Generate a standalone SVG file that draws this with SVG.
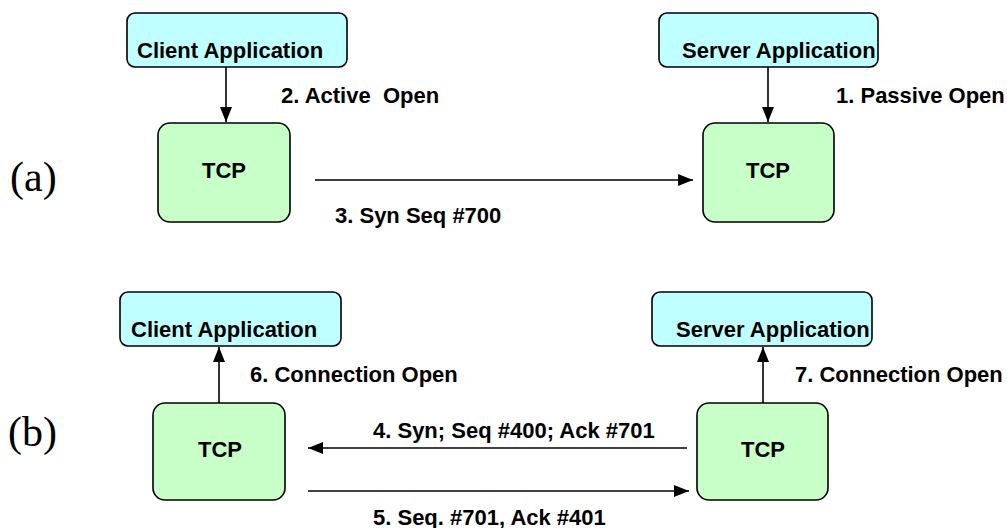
<svg xmlns="http://www.w3.org/2000/svg" width="1007" height="528" viewBox="0 0 1007 528">
<style>
.app{fill:#C0FFFF;stroke:#000;stroke-width:1.6}
.tcp{fill:#C8FFC8;stroke:#000;stroke-width:1.6}
.t{font-family:"Liberation Sans",Arial,sans-serif;font-weight:bold;font-size:22px;fill:#000;white-space:pre}
.h{font-family:"Liberation Sans",Arial,sans-serif;font-weight:bold;font-size:22px;fill:#000}
.lbl{font-family:"Liberation Serif","Times New Roman",serif;font-size:42px;fill:#000}
.c{stroke:#000;stroke-width:1.6;fill:none;marker-end:url(#ah)}
</style>
<defs>
<marker id="ah" viewBox="0 0 15 12" refX="15" refY="6" markerWidth="15" markerHeight="12" markerUnits="userSpaceOnUse" orient="auto">
<path d="M0,0 L15,6 L0,12 z" fill="#000"/>
</marker>
</defs>
<rect width="1007" height="528" fill="#fff"/>
<text class="lbl" x="10" y="191">(a)</text>
<text class="lbl" x="8" y="446">(b)</text>

<g id="a-client-app"><rect class="app" x="127" y="13" width="220" height="54" rx="8"/><text class="h" x="137" y="58">Client Application</text></g>
<g id="a-server-app"><rect class="app" x="659" y="13" width="219" height="54" rx="8"/><text class="h" x="682" y="58">Server Application</text></g>
<g id="a-client-tcp"><rect class="tcp" x="158" y="123" width="132" height="99" rx="12"/><text class="h" x="224" y="178" text-anchor="middle">TCP</text></g>
<g id="a-server-tcp"><rect class="tcp" x="703" y="123" width="131" height="99" rx="12"/><text class="h" x="768" y="178" text-anchor="middle">TCP</text></g>

<g id="b-client-app"><rect class="app" x="120" y="292" width="221" height="54" rx="8"/><text class="h" x="131" y="337">Client Application</text></g>
<g id="b-server-app"><rect class="app" x="652" y="292" width="220" height="54" rx="8"/><text class="h" x="676" y="337">Server Application</text></g>
<g id="b-client-tcp"><rect class="tcp" x="153" y="403" width="132" height="97" rx="12"/><text class="h" x="220" y="457" text-anchor="middle">TCP</text></g>
<g id="b-server-tcp"><rect class="tcp" x="697" y="403" width="131" height="97" rx="12"/><text class="h" x="763" y="457" text-anchor="middle">TCP</text></g>

<g id="connectors">
<line class="c" x1="226" y1="67" x2="226" y2="122"/>
<line class="c" x1="768" y1="67" x2="768" y2="122"/>
<line class="c" x1="315" y1="180" x2="693" y2="180"/>
<line class="c" x1="219" y1="403" x2="219" y2="347"/>
<line class="c" x1="763" y1="403" x2="763" y2="347"/>
<line class="c" x1="687" y1="448" x2="308" y2="448"/>
<line class="c" x1="308" y1="491" x2="689" y2="491"/>
</g>

<g id="labels">
<text class="t" x="281" y="103" xml:space="preserve">2. Active  Open</text>
<text class="t" x="836" y="103">1. Passive Open</text>
<text class="t" x="335" y="223">3. Syn Seq #700</text>
<text class="t" x="250" y="382">6. Connection Open</text>
<text class="t" x="795" y="382">7. Connection Open</text>
<text class="t" x="373" y="438">4. Syn; Seq #400; Ack #701</text>
<text class="t" x="373" y="525">5. Seq. #701, Ack #401</text>
</g>
</svg>
